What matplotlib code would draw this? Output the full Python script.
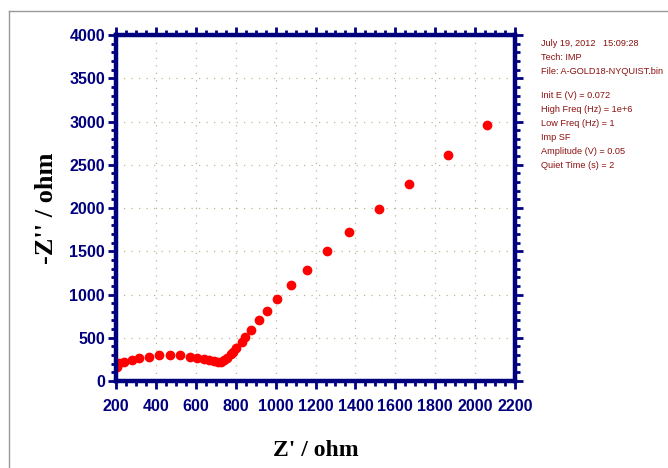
import numpy as np
import matplotlib
matplotlib.use("Agg")
import matplotlib.pyplot as plt
from matplotlib.lines import Line2D
from matplotlib.ticker import MultipleLocator

# Nyquist data
z_real = [203, 215, 240, 279, 317, 365, 417, 471, 523, 569, 608, 643, 666, 689,
          712, 726, 741, 757, 774, 787, 801, 829, 847, 877, 917, 957, 1009, 1077,
          1159, 1258, 1368, 1516, 1670, 1866, 2061]
z_imag = [158, 205, 216, 243, 262, 281, 297, 297, 297, 281, 270, 251, 239, 228,
          220, 224, 239, 270, 309, 339, 378, 455, 512, 590, 705, 813, 951, 1110,
          1287, 1499, 1723, 1993, 2274, 2616, 2956]

info_top = ["July 19, 2012   15:09:28", "Tech: IMP", "File: A-GOLD18-NYQUIST.bin"]
info_params = ["Init E (V) = 0.072", "High Freq (Hz) = 1e+6", "Low Freq (Hz) = 1",
               "Imp SF", "Amplitude (V) = 0.05", "Quiet Time (s) = 2"]

navy = "#00007f"
tick_font = ["Liberation Sans Narrow", "Liberation Sans", "DejaVu Sans"]
serif = ["Liberation Serif", "DejaVu Serif"]

fig = plt.figure(figsize=(6.68, 4.68), dpi=100)
ax = fig.add_axes([0.1737, 0.1859, 0.5973, 0.7393])

ax.plot(z_real, z_imag, "o", color="red", ms=6, mec="red")

ax.set_xlim(200, 2200)
ax.set_ylim(0, 4000)
ax.xaxis.set_major_locator(MultipleLocator(200))
ax.xaxis.set_minor_locator(MultipleLocator(50))
ax.yaxis.set_major_locator(MultipleLocator(500))
ax.yaxis.set_minor_locator(MultipleLocator(100))

for s in ax.spines.values():
    s.set_linewidth(3.2)
    s.set_color(navy)

ax.tick_params(which="major", direction="out", length=6, width=2, color=navy,
               top=True, right=True, labelcolor=navy, pad=2)
ax.tick_params(which="minor", direction="out", length=3.5, width=2, color=navy,
               top=True, right=True)
ax.tick_params(axis="x", which="major", pad=7)
for lab in ax.get_xticklabels() + ax.get_yticklabels():
    lab.set_family(tick_font)
    lab.set_fontweight("bold")
    lab.set_fontsize(11.5)

ax.grid(True, which="major", linestyle=(0, (1, 5)), color="#b8b890", linewidth=0.9)

ax.set_xlabel("Z' / ohm", family=serif, fontweight="bold", fontsize=17, labelpad=19)
ax.set_ylabel("-Z'' / ohm", family=serif, fontweight="bold", fontsize=19, labelpad=8)

# side info text
y0 = 44
for i, t in enumerate(info_top):
    fig.text(541 / 668, 1 - (y0 + 14 * i) / 468, t, color="#8b1010",
             family=tick_font, fontsize=6.6, va="center")
y1 = 95
for i, t in enumerate(info_params):
    fig.text(541 / 668, 1 - (y1 + 14 * i) / 468, t, color="#8b1010",
             family=tick_font, fontsize=6.6, va="center")

# grey frame lines
fig.add_artist(Line2D([9 / 668, 1], [1 - 11 / 468, 1 - 11 / 468],
                      transform=fig.transFigure, color="#999999", lw=1))
fig.add_artist(Line2D([9 / 668, 9 / 668], [0, 1 - 11 / 468],
                      transform=fig.transFigure, color="#999999", lw=1))

fig.savefig("out.png", dpi=100)
